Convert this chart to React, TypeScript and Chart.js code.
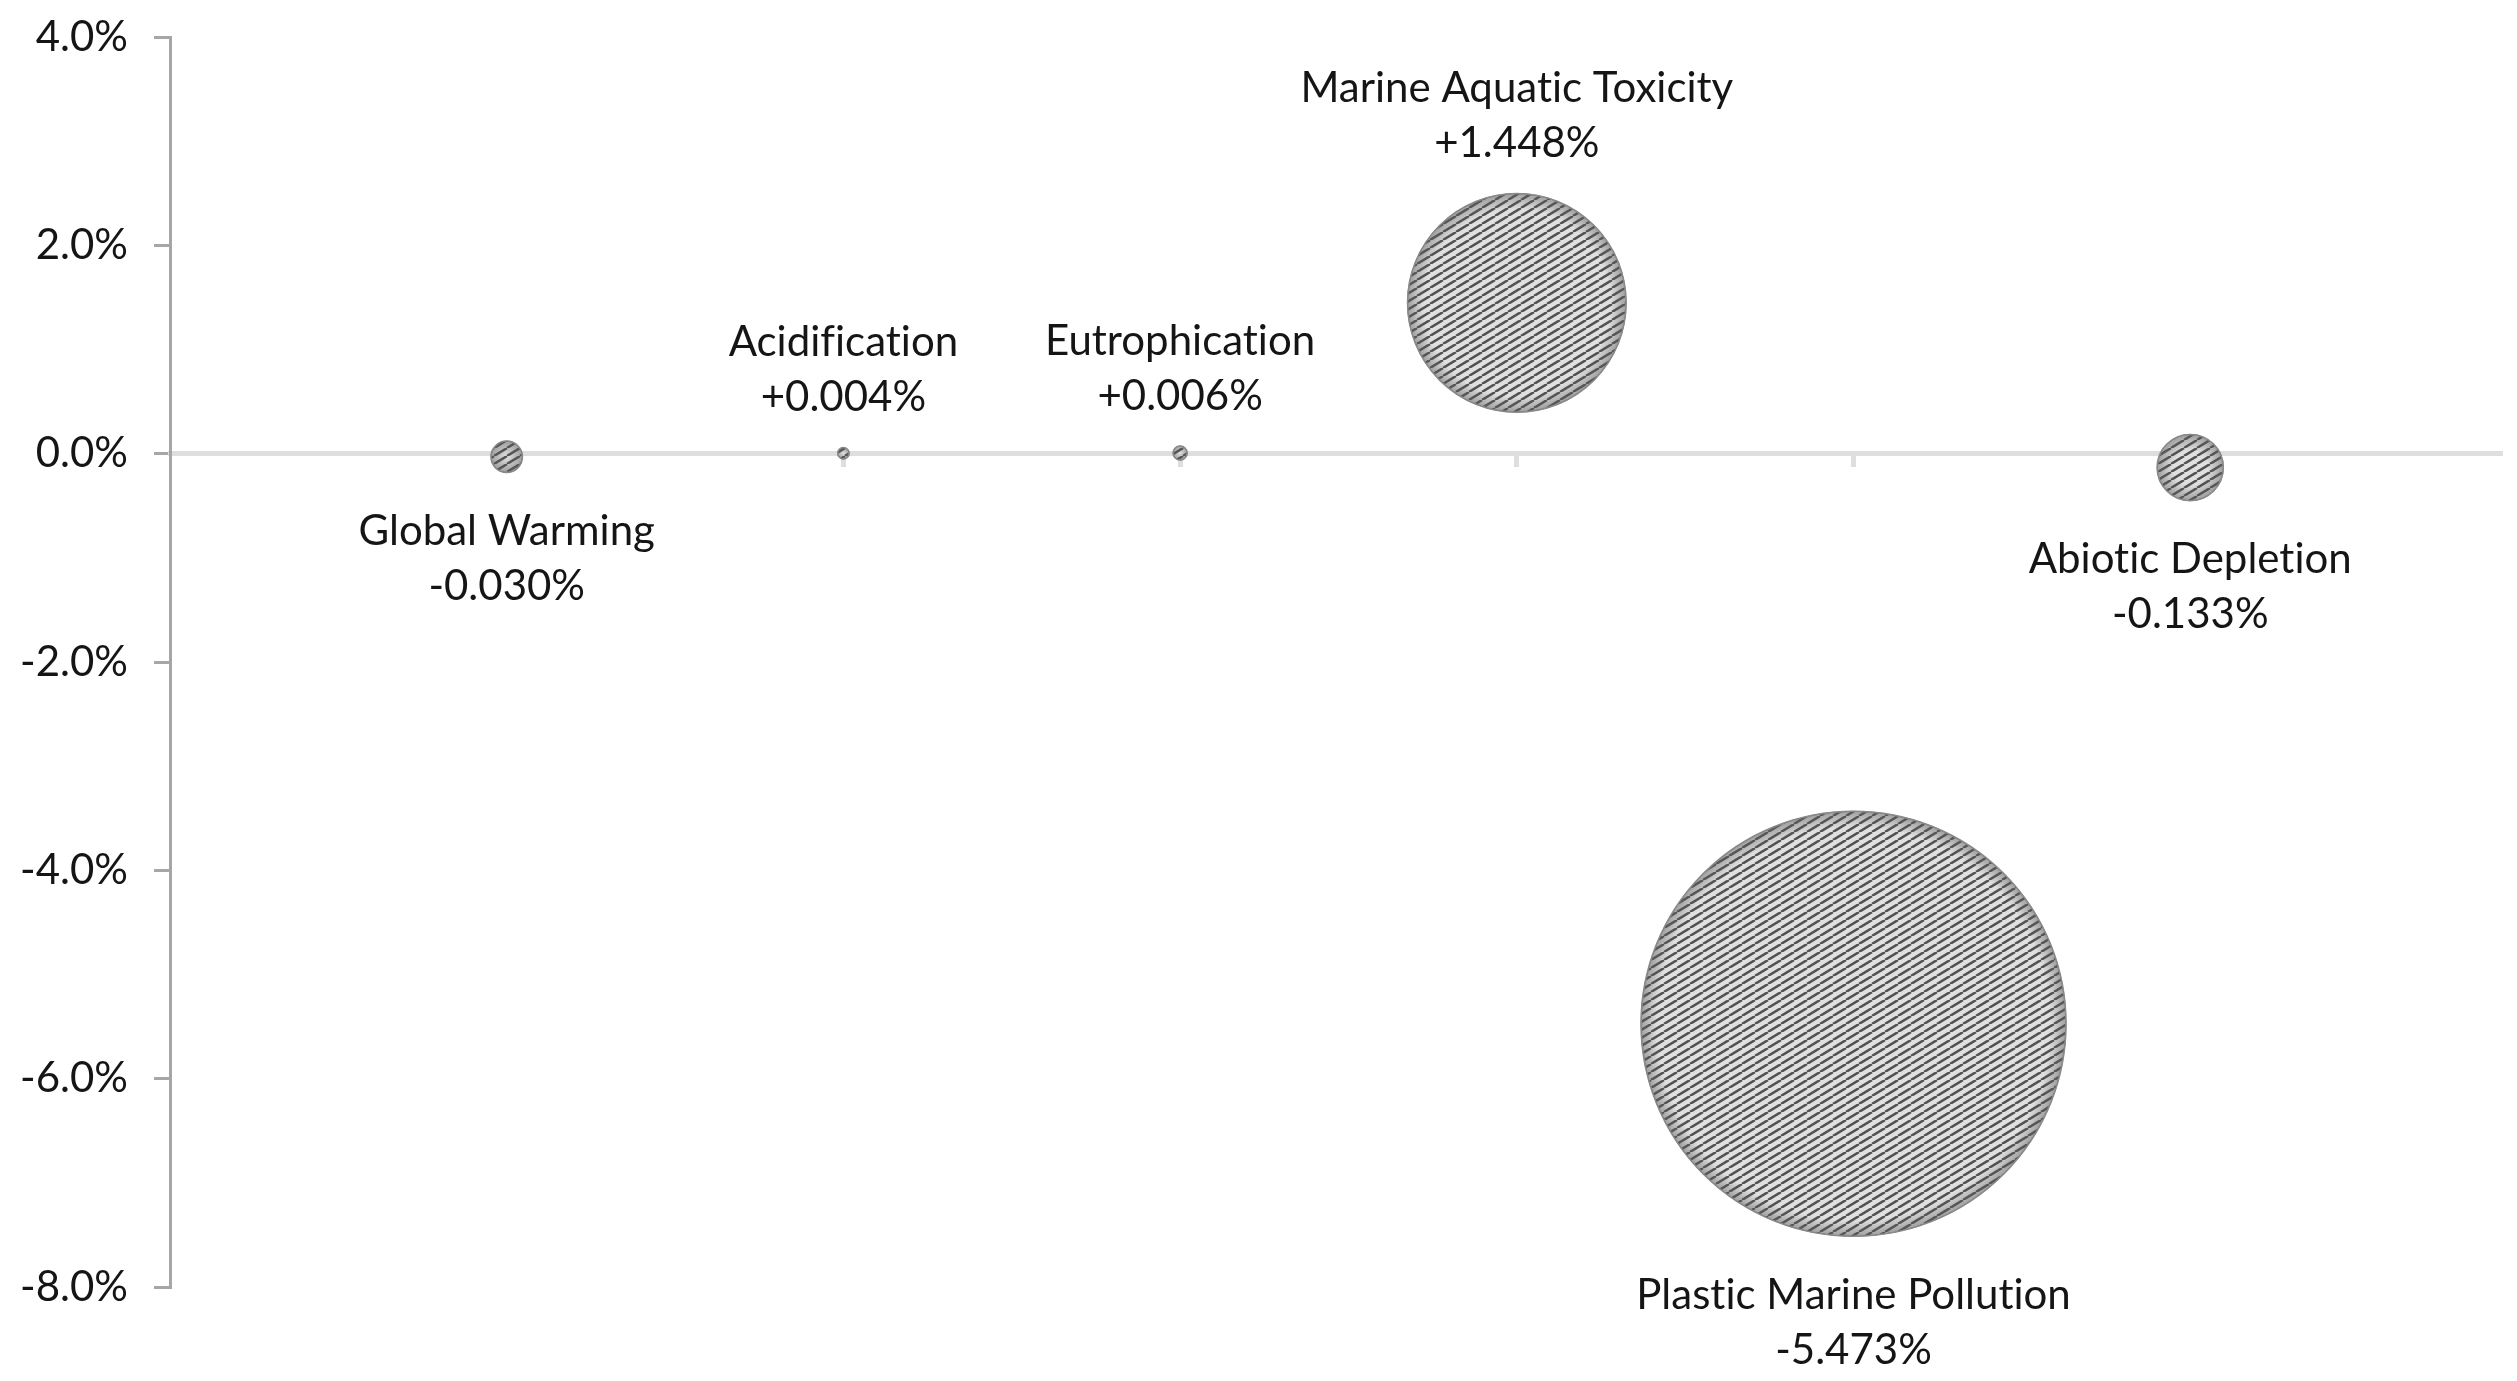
import React, { useEffect, useRef } from "react";
import { Chart, registerables } from "chart.js";

Chart.register(...registerables);

// ---- Data ----
const categories = [
  "Global Warming",
  "Acidification",
  "Eutrophication",
  "Marine Aquatic Toxicity",
  "Plastic Marine Pollution",
  "Abiotic Depletion",
];
const xPositions = [1, 2, 3, 4, 5, 6];
const changes = [-0.03, 0.004, 0.006, 1.448, -5.473, -0.133];
const yTickValues = [-8, -6, -4, -2, 0, 2, 4];

const FONT = "Lato, 'Open Sans', sans-serif";
const FONT_SIZE = 42;
const maxAbs = Math.max(...changes.map((v) => Math.abs(v)));

function makePattern(): CanvasPattern | string {
  const w = 13;
  const h = 8;
  const c = document.createElement("canvas");
  c.width = w;
  c.height = h;
  const g = c.getContext("2d");
  if (!g) return "#bbbbbb";
  g.fillStyle = "#e0e0e0";
  g.fillRect(0, 0, w, h);
  g.strokeStyle = "#525252";
  g.lineWidth = 2.5;
  for (let k = -1; k <= 1; k++) {
    g.beginPath();
    g.moveTo(k * w, h);
    g.lineTo(k * w + w, 0);
    g.stroke();
  }
  const p = g.createPattern(c, "repeat");
  return p || "#bbbbbb";
}

const formatChange = (v: number) => (v > 0 ? "+" : "") + v.toFixed(3) + "%";

const bubblePlugin = {
  id: "bubbleDecor",
  afterDatasetsDraw(chart: any) {
    const meta = chart.getDatasetMeta(0);
    const ctx: any = chart.ctx;
    ctx.save();
    // edge shading
    meta.data.forEach((el: any) => {
      const { x, y } = el.getProps(["x", "y"], true);
      const r = el.options.radius;
      if (!r) return;
      const inner = Math.max(0, r - 16);
      const grad = ctx.createRadialGradient(x, y, inner, x, y, r);
      grad.addColorStop(0, "rgba(95,95,95,0)");
      grad.addColorStop(1, "rgba(95,95,95,0.5)");
      ctx.beginPath();
      ctx.arc(x, y, r, 0, Math.PI * 2);
      ctx.fillStyle = grad;
      ctx.fill();
      ctx.lineWidth = 1.5;
      ctx.strokeStyle = "#8a8a8a";
      ctx.stroke();
    });
    // labels
    try {
      ctx.textRendering = "optimizeSpeed";
    } catch (e) {}
    ctx.font = `${FONT_SIZE}px ${FONT}`;
    ctx.fillStyle = "#151515";
    ctx.textAlign = "center";
    ctx.textBaseline = "middle";
    const gap = 55;
    meta.data.forEach((el: any, i: number) => {
      const { x, y } = el.getProps(["x", "y"], true);
      const r = el.options.radius || 0;
      const v = changes[i];
      if (v > 0) {
        const top = y - r;
        ctx.fillText(categories[i], x, top - gap * 2 + 5);
        ctx.fillText(formatChange(v), x, top - gap + 5);
      } else {
        const bottom = y + r;
        ctx.fillText(categories[i], x, bottom + gap + 4);
        ctx.fillText(formatChange(v), x, bottom + gap * 2 + 4);
      }
    });
    ctx.restore();
  },
};

export default function App() {
  const canvasRef = useRef<HTMLCanvasElement | null>(null);

  useEffect(() => {
    if (!canvasRef.current) return;
    const pattern = makePattern();
    const chart = new Chart(canvasRef.current, {
      type: "bubble",
      data: {
        datasets: [
          {
            label: "Change",
            data: xPositions.map((x, i) => ({ x, y: changes[i] })),
            backgroundColor: pattern as any,
            borderColor: "#8a8a8a",
            borderWidth: 1,
            clip: false,
            radius: (c: any) => {
              const area = c.chart.chartArea;
              const h = area ? area.bottom - area.top : 1250;
              const v = Math.abs(changes[c.dataIndex] ?? 0);
              return h * 0.17 * Math.sqrt(v / maxAbs);
            },
          } as any,
        ],
      },
      options: {
        responsive: false,
        animation: false,
        devicePixelRatio: 1,
        layout: { autoPadding: false, padding: { top: 37, right: 17, bottom: 94, left: 0 } },
        plugins: {
          legend: { display: false },
          tooltip: { enabled: false },
        },
        scales: {
          x: {
            type: "linear",
            min: 0,
            max: 6.92,
            position: { y: 0 } as any,
            ticks: { display: false, stepSize: 1, includeBounds: false },
            grid: {
              drawOnChartArea: false,
              drawTicks: true,
              tickLength: 11,
              lineWidth: 5,
              color: (c: any) => (c.tick && c.tick.value === 0 ? "rgba(0,0,0,0)" : "#dedede"),
            },
            border: { color: "#dedede", width: 5 },
          },
          y: {
            type: "linear",
            min: -8,
            max: 4,
            afterBuildTicks: (s: any) => {
              s.ticks = yTickValues.map((v) => ({ value: v }));
            },
            afterFit: (s: any) => {
              s.width = 170;
              s.paddingTop = 0;
              s.paddingBottom = 0;
            },
            ticks: {
              callback: (v: any) => Number(v).toFixed(1) + "%",
              font: { family: FONT, size: FONT_SIZE },
              color: "#151515",
              padding: 26,
            },
            grid: {
              drawOnChartArea: false,
              drawTicks: true,
              tickLength: 16,
              lineWidth: 3,
              color: "#a6a6a6",
            },
            border: { color: "#a6a6a6", width: 3 },
          },
        },
      },
      plugins: [bubblePlugin],
    });
    return () => chart.destroy();
  }, []);

  return (
    <div style={{ position: "fixed", left: 0, top: 0, width: 2517, height: 1381, background: "#fff" }}>
      <canvas ref={canvasRef} width={2517} height={1381} style={{ width: 2517, height: 1381 }} />
    </div>
  );
}
